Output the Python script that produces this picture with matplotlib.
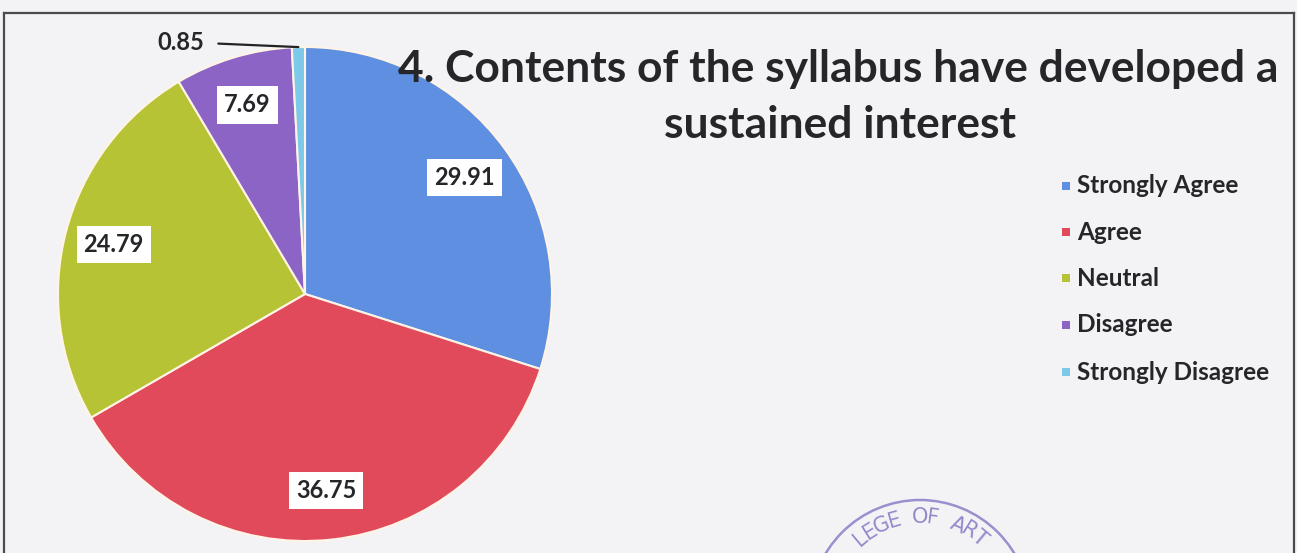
import matplotlib
matplotlib.use('Agg')
import matplotlib.pyplot as plt
import numpy as np
from matplotlib.patches import Rectangle, Circle
from matplotlib.lines import Line2D

categories = ['Strongly Agree', 'Agree', 'Neutral', 'Disagree', 'Strongly Disagree']
values = [29.91, 36.75, 24.79, 7.69, 0.85]
value_labels = ['29.91', '36.75', '24.79', '7.69', '0.85']
colors = ['#5E8FE0', '#E04A5B', '#B6C335', '#8B64C5', '#7DC9EA']
title_lines = ['4. Contents of the syllabus have developed a', 'sustained interest']
stamp_text = 'COLLEGE OF ARTS'

W, H = 1297, 553
fig = plt.figure(figsize=(W / 100, H / 100), dpi=100, facecolor='#F3F3F6')


def fx(x):
    return x / W


def fy(y):
    return 1 - y / H


FONT = 'Lato'
TXT = '#26262A'

# frame
for (x0, y0, x1, y1) in [(4, 13, 1294, 13), (4, 13, 4, 553), (1294, 13, 1294, 553)]:
    fig.add_artist(Line2D([fx(x0), fx(x1)], [fy(y0), fy(y1)], color='#4A4A4E', lw=1.6))

# pie
cx, cy, R = 305, 294, 247
ax = fig.add_axes([fx(cx - R), fy(cy + R), 2 * R / W, 2 * R / H])
wedges, _ = ax.pie(values, colors=colors, startangle=90, counterclock=False, radius=1,
                   wedgeprops=dict(edgecolor='#FFF4E6', linewidth=1.5))
ax.set_xlim(-1, 1)
ax.set_ylim(-1, 1)
ax.set_aspect('auto')
ax.axis('off')

for w, lab in list(zip(wedges, value_labels))[:4]:
    th = np.deg2rad((w.theta1 + w.theta2) / 2)
    ax.text(0.8 * np.cos(th), 0.8 * np.sin(th), lab, ha='center', va='center',
            fontsize=17, fontweight='bold', family=FONT, color=TXT,
            bbox=dict(boxstyle='square,pad=0.3', facecolor='white', edgecolor='none'))

w = wedges[4]
th = np.deg2rad((w.theta1 + w.theta2) / 2)
ax.annotate(value_labels[4], xy=(np.cos(th), np.sin(th)),
            xytext=((181 - cx) / R, (cy - 43) / R), ha='center', va='center',
            fontsize=17, fontweight='bold', family=FONT, color=TXT,
            arrowprops=dict(arrowstyle='-', color='#222222', lw=1.6, shrinkA=8, shrinkB=0,
                            relpos=(1.0, 0.5)),
            annotation_clip=False)

# title
fig.canvas.draw()
rend = fig.canvas.get_renderer()
t1 = fig.text(fx(838), fy(82), title_lines[0], ha='center', va='baseline', fontsize=26,
              fontweight='bold', family=FONT, color=TXT)
wpx = t1.get_window_extent(rend).width
fs = 26 * 880 / wpx
t1.set_fontsize(fs)
t2 = fig.text(fx(840), fy(138), title_lines[1], ha='center', va='baseline', fontsize=fs,
              fontweight='bold', family=FONT, color=TXT)

# legend
leg_y = [186, 232, 278, 325, 372]
lts = []
for cat, col, y in zip(categories, colors, leg_y):
    fig.add_artist(Rectangle((fx(1062), fy(y + 4)), 8 / W, 8 / H, facecolor=col,
                             edgecolor='none', transform=fig.transFigure))
    lts.append(fig.text(fx(1077), fy(y), cat, ha='left', va='center', fontsize=14,
                        fontweight='bold', family=FONT, color=TXT))
wl = lts[-1].get_window_extent(rend).width
lfs = 14 * 193 / wl
for t in lts:
    t.set_fontsize(lfs)

# stamp (partially visible at the bottom edge)
scx, scy, sr, tr, step = 920, 610, 110, 93, 8.0
ring = Circle((scx / 100, (H - scy) / 100), sr / 100, transform=fig.dpi_scale_trans,
              facecolor='none', edgecolor='#7B6FC0', lw=1.8, alpha=0.75)
fig.add_artist(ring)
for i, ch in enumerate(stamp_text):
    ang = 90 + (8 - i) * step
    a = np.deg2rad(ang)
    px = scx + tr * np.cos(a)
    py = scy - tr * np.sin(a)
    if py > 541 or ch == ' ':
        continue
    fig.text(fx(px), fy(py), ch, ha='center', va='center', rotation=ang - 90,
             fontsize=15, family='DejaVu Sans', color='#7B6FC0', alpha=0.8)

fig.savefig('out.png', dpi=100, facecolor=fig.get_facecolor())
